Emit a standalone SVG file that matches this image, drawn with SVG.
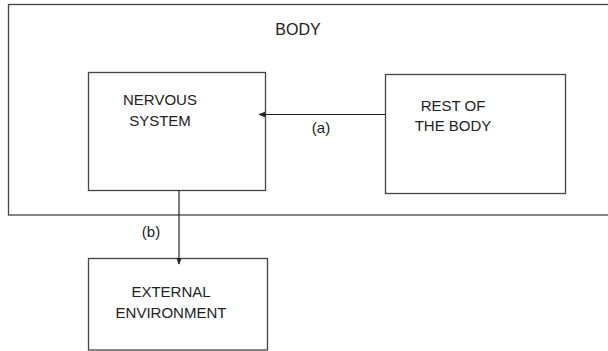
<svg xmlns="http://www.w3.org/2000/svg" width="608" height="351" viewBox="0 0 608 351">
<defs>
<style>
.box{fill:#fff;stroke:#444;stroke-width:1.3}
.t{font-family:"Liberation Sans",Arial,sans-serif;font-size:15px;fill:#222;text-anchor:middle}
.line{stroke:#222;stroke-width:1.2;fill:none}
</style>
<marker id="arr" viewBox="0 0 10 10" refX="9" refY="5" markerWidth="7" markerHeight="7" orient="auto" markerUnits="userSpaceOnUse">
<path d="M0,1 L10,5 L0,9 Z" fill="#222"/>
</marker>
</defs>
<rect width="608" height="351" fill="#fff"/>
<g id="body">
<rect class="box" x="8.5" y="4.5" width="610" height="210.5"/>
<text class="t" x="298" y="35" style="font-size:16px">BODY</text>
</g>
<g id="nervous-system">
<rect class="box" x="88.5" y="72.5" width="177" height="118"/>
<text class="t" x="160" y="105">NERVOUS</text>
<text class="t" x="160" y="126">SYSTEM</text>
</g>
<g id="rest-of-body">
<rect class="box" x="385.5" y="74.5" width="180" height="119"/>
<text class="t" x="453" y="111">REST OF</text>
<text class="t" x="453" y="131">THE BODY</text>
</g>
<g id="external-environment">
<rect class="box" x="88.5" y="258.5" width="179" height="91.5"/>
<text class="t" x="171" y="297">EXTERNAL</text>
<text class="t" x="171" y="318">ENVIRONMENT</text>
</g>
<g id="connectors">
<line class="line" x1="385" y1="114.5" x2="259" y2="114.5" marker-end="url(#arr)"/>
<text class="t" x="321" y="133">(a)</text>
<line class="line" x1="179" y1="190.5" x2="179" y2="264" marker-end="url(#arr)"/>
<text class="t" x="151" y="237">(b)</text>
</g>
</svg>
